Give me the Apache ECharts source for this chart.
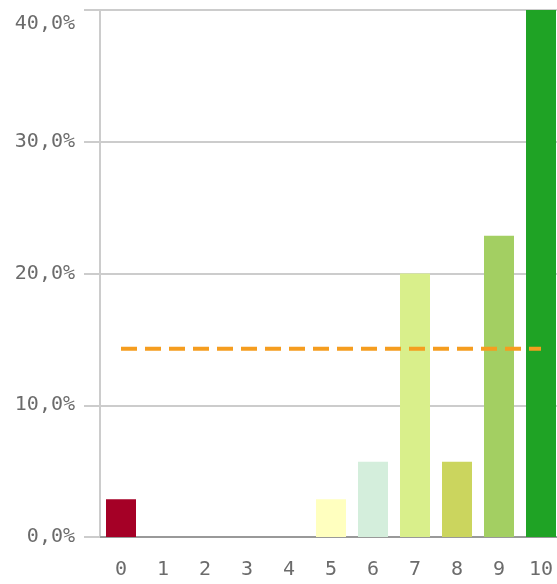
<!DOCTYPE html>
<html>
<head>
<meta charset="utf-8">
<script src="https://cdn.jsdelivr.net/npm/echarts@6/dist/echarts.min.js"></script>
<style>
  html, body { margin: 0; padding: 0; background: #fff; }
  #chart { width: 557px; height: 584px; }
</style>
</head>
<body>
<div id="chart"></div>
<script>
// Score categories 0–10 and the share of responses for each (percent)
const categories = ['0', '1', '2', '3', '4', '5', '6', '7', '8', '9', '10'];
const shares = [2.86, 0, 0, 0, 0, 2.86, 5.71, 20.0, 5.71, 22.86, 40.0];
// Reference level drawn as a dashed line across all categories (percent)
const referenceLevel = 14.29;
// Fill colour per category
const barColors = ['#A50026', '#D73027', '#F46D43', '#FDAE61', '#FEE08B', '#FFFFBF',
                   '#D4EEDC', '#D9EF8B', '#CBD55E', '#A3CF62', '#1FA325'];
// Y axis range and tick step (percent)
const yMin = 0, yMax = 40, yStep = 10;

const fmtPct = v => v.toFixed(1).replace('.', ',') + '%';
const monoFont = 'DejaVu Sans Mono';

const chart = echarts.init(document.getElementById('chart'), null, { renderer: 'canvas' });
chart.setOption({
  animation: false,
  backgroundColor: '#fff',
  // the last category band runs a little past the right edge of the canvas
  grid: { left: 100, top: 10, width: 462, height: 527, containLabel: false, outerBoundsMode: 'none' },
  xAxis: {
    type: 'category',
    data: categories,
    axisLine: { show: true, lineStyle: { color: '#999', width: 2 } },
    axisTick: { show: false },
    axisLabel: { margin: 23, fontFamily: monoFont, fontSize: 20, color: '#6b6b6b' }
  },
  yAxis: {
    type: 'value',
    min: yMin, max: yMax, interval: yStep,
    axisLine: { show: true, lineStyle: { color: '#ccc', width: 2 } },
    axisTick: { show: true, length: 16, lineStyle: { color: '#ccc', width: 2 } },
    splitLine: { show: true, lineStyle: { color: '#ccc', width: 2 } },
    axisLabel: {
      margin: 25, fontFamily: monoFont, fontSize: 20, color: '#6b6b6b', lineHeight: 28,
      formatter: fmtPct, verticalAlignMaxLabel: 'top'
    }
  },
  series: [
    {
      type: 'bar',
      barWidth: 30,
      data: shares.map((v, i) => ({ value: v, itemStyle: { color: barColors[i] } })),
      z: 2
    },
    {
      type: 'line',
      data: categories.map(() => referenceLevel),
      symbol: 'none',
      lineStyle: { color: '#F59D1F', width: 4, type: [16, 8] },
      z: 3
    }
  ]
});
</script>
</body>
</html>
